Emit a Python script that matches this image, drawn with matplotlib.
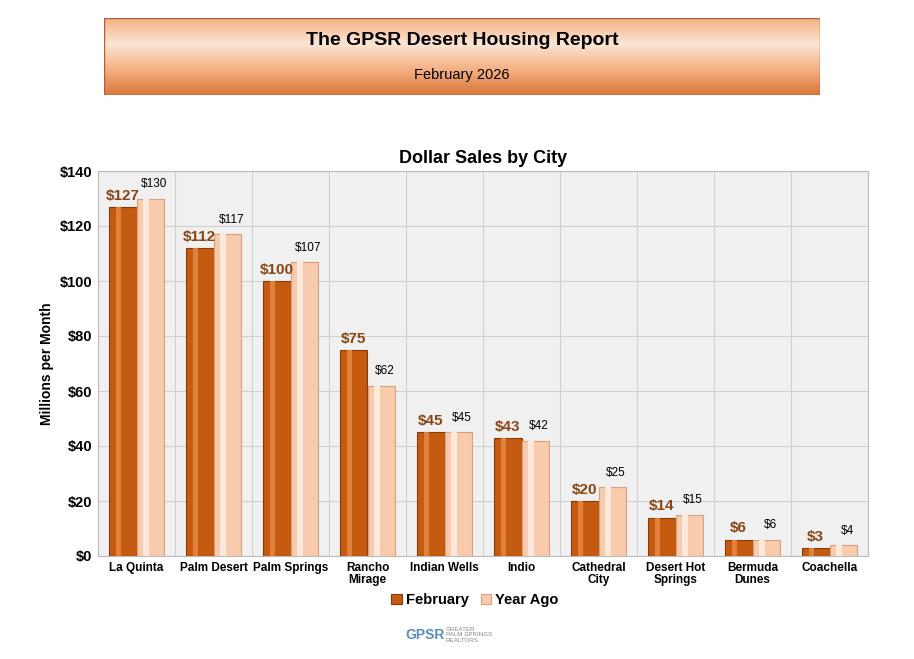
import matplotlib
matplotlib.use("Agg")
import matplotlib.pyplot as plt
import numpy as np
from matplotlib.colors import LinearSegmentedColormap

cities = ["La Quinta", "Palm Desert", "Palm Springs", "Rancho\nMirage", "Indian Wells",
          "Indio", "Cathedral\nCity", "Desert Hot\nSprings", "Bermuda\nDunes", "Coachella"]
feb = [127, 112, 100, 75, 45, 43, 20, 14, 6, 3]
year_ago = [130, 117, 107, 62, 45, 42, 25, 15, 6, 4]
yticks = [0, 20, 40, 60, 80, 100, 120, 140]

plt.rcParams['font.family'] = ['Liberation Sans', 'DejaVu Sans']
fig = plt.figure(figsize=(9.14, 6.59), dpi=100)

bax = fig.add_axes([104/914, 1-95/659, 716/914, 77/659])
bax.axis('off')
grad = np.linspace(0, 1, 100).reshape(-1, 1)
cmap = LinearSegmentedColormap.from_list('b', ['#F4B183', '#FBE5D6', '#F4B183', '#D9773A'])
bax.imshow(grad, aspect='auto', cmap=cmap, extent=[0, 1, 0, 1])
bax.set_xlim(0, 1); bax.set_ylim(0, 1)
bax.add_patch(plt.Rectangle((0, 0), 1, 1, fill=False, ec='#B0603A', lw=1))
bax.text(0.5, 0.71, "The GPSR Desert Housing Report", ha='center', va='center', fontsize=14, fontweight='bold')
bax.text(0.5, 0.26, "February 2026", ha='center', va='center', fontsize=10.5)

ax = fig.add_axes([98/914, 1-556/659, 770/914, 385/659])
ax.set_facecolor('#F0F0F0')
x = np.arange(len(cities))
w = 0.36
b1 = ax.bar(x - w/2, feb, w, color='#C55A11', edgecolor='#8A3A08', lw=0.8, zorder=3)
b2 = ax.bar(x + w/2, year_ago, w, color='#F8CBAD', edgecolor='#D9A080', lw=0.8, zorder=3)
ax.bar(x - w/2 - w*0.15, feb, w*0.2, color='#E0803A', lw=0, zorder=4)
ax.bar(x + w/2 - w*0.15, year_ago, w*0.2, color='#FDE9DC', lw=0, zorder=4)
for i in range(len(cities)):
    ax.text(x[i] - w/2, feb[i] + 1.5, f"${feb[i]}", ha='center', va='bottom',
            fontsize=11, fontweight='bold', color='#8B4513', zorder=5)
    ax.text(x[i] + w/2 + 0.05, year_ago[i] + 3, f"${year_ago[i]}", ha='center', va='bottom',
            fontsize=8.5, color='black', zorder=5)
ax.set_ylim(0, 140)
ax.set_xlim(-0.5, len(cities) - 0.5)
ax.set_yticks(yticks)
ax.set_yticklabels([f"${v}" for v in yticks], fontsize=10.5, fontweight='bold')
ax.set_xticks(x)
ax.set_xticklabels(cities, fontsize=8.5, fontweight='bold', linespacing=1.0)
ax.tick_params(length=0, pad=4)
ax.set_axisbelow(True)
ax.grid(axis='y', color='#D0D0D0', lw=0.8)
for xv in np.arange(0.5, len(cities) - 0.5, 1):
    ax.axvline(xv, color='#D0D0D0', lw=0.8, zorder=0)
for s in ax.spines.values():
    s.set_color('#BBBBBB')
ax.set_ylabel("Millions per Month", fontsize=10, fontweight='bold')
ax.set_title("Dollar Sales by City", fontsize=13, fontweight='bold', pad=6)
fig.legend([b1, b2], ["February", "Year Ago"], loc='center', bbox_to_anchor=(475/914, 1-600/659),
           ncol=2, frameon=False, handlelength=0.7, handleheight=0.7,
           columnspacing=0.8, handletextpad=0.3, prop={'weight': 'bold', 'size': 10.5})
fig.text(405/914, 1-635/659, "GPSR", fontsize=10, color='#5A8FC0', fontweight='bold', va='center')
fig.text(446/914, 1-635/659, "GREATER\nPALM SPRINGS\nREALTORS", fontsize=4.5, color='#888888', va='center')
fig.savefig("out.png", dpi=100)
